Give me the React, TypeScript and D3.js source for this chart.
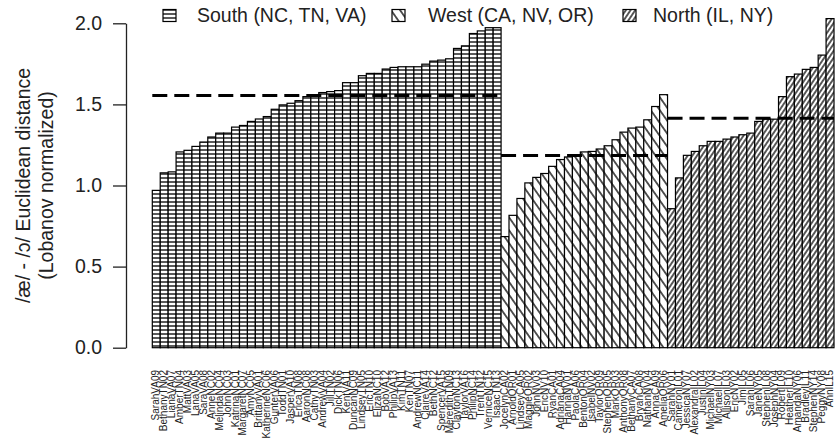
import { useEffect, useRef } from 'react'
import * as d3 from 'd3'

// speakers, sorted within region by distance
const southNames = ['SarahVA09', 'BethanyTN02', 'LianaVA07', 'AmberTN04', 'MattVA03', 'LanaVA05', 'SaraVA08', 'AnneNC02',
  'MelindaNC04', 'JohnNC03', 'KatrinaNC01', 'MargaretNC07', 'AmyNC05', 'BrittanyVA01', 'KatherineNC06', 'GunterVA06',
  'ToddTN01', 'JasperVA10', 'EricaTN08', 'AaronNC08', 'CathyTN03', 'AndrewVA04', 'JillTN02', 'DickTN06', 'KentVA11',
  'DuncanNC09', 'LindseyTN05', 'EricTN10', 'ElizaNC10', 'BobVA12', 'PhilipVA13', 'KimTN11', 'KenTN07', 'AndrewNC11',
  'ClaireVA14', 'BethNC12', 'SpencerVA15', 'MeredithTN09', 'ClaytonNC13', 'TaylorVA16', 'PhilipNC14', 'TrentTN12',
  'VerniceNC15', 'IsaacTN13']
const southValues = [0.97, 1.078, 1.084, 1.207, 1.217, 1.241, 1.268, 1.299, 1.323, 1.323, 1.36, 1.37, 1.395, 1.41,
  1.425, 1.47, 1.497, 1.507, 1.523, 1.548, 1.552, 1.573, 1.579, 1.585, 1.634, 1.634, 1.677, 1.691, 1.691, 1.718,
  1.728, 1.732, 1.732, 1.732, 1.748, 1.767, 1.773, 1.781, 1.845, 1.861, 1.937, 1.953, 1.973, 1.973]

const westNames = ['JocelynCA02', 'ArnoldOR01', 'LindseyCA05', 'MaggieOR02', 'JohnNV03', 'EricNV10', 'RyanCA01',
  'AdrianaCA04', 'HannaNV01', 'PaolaCA06', 'BentonOR04', 'IsabelNV02', 'TaylorOR09', 'StephenOR05', 'MarkOR03',
  'AnthonyOR08', 'BethanyCA07', 'BryanCA08', 'NathanNV04', 'AnnaCA09', 'AmeliaOR06']
const westValues = [0.685, 0.816, 0.92, 1.016, 1.05, 1.074, 1.118, 1.16, 1.176, 1.19, 1.207, 1.21, 1.225, 1.245,
  1.282, 1.329, 1.354, 1.36, 1.405, 1.487, 1.56]

const northNames = ['SarahNY01', 'CameronIL01', 'JessicaNY07', 'AlexandraIL02', 'JustinIL04', 'MichaelNY03',
  'MichaelIL07', 'AllisonIL03', 'EricNY02', 'JimIL05', 'SarahIL06', 'JaneNY05', 'StephenIL08', 'JosephNY04',
  'RobertIL09', 'HeatherIL10', 'AmandaNY06', 'BradleyIL11', 'StephenNY14', 'PeggyNY08', 'AnnIL15']
const northValues = [0.857, 1.047, 1.186, 1.21, 1.245, 1.272, 1.272, 1.286, 1.299, 1.313, 1.323, 1.395, 1.409,
  1.409, 1.548, 1.671, 1.687, 1.716, 1.728, 1.804, 2.029]

const groupIds = ['south', 'west', 'north']
const groupLabels = ['South (NC, TN, VA)', 'West (CA, NV, OR)', 'North (IL, NY)']
const yTicks = [0, 0.5, 1, 1.5, 2]

export default function App() {
  const canvas = useRef<HTMLDivElement>(null)

  useEffect(() => {
    showCanvas()
  }, [])

  const showCanvas = () => {
    const width = 835
    const height = 443
    const margin = { top: 23.3, bottom: 95.3, left: 152.3, right: 1 }
    const font = '"Liberation Sans", Arial, Helvetica, sans-serif'

    d3.select('body').style('margin', 0)
    d3.select(canvas.current).selectAll('*').remove()

    const svg = d3.select(canvas.current)
      .append('svg')
      .attr('width', width)
      .attr('height', height)
      .style('display', 'block')
      .style('background', '#fff')
      .style('font-family', font)

    const groups = [
      { id: 'south', names: southNames, values: southValues },
      { id: 'west', names: westNames, values: westValues },
      { id: 'north', names: northNames, values: northValues }
    ]
    const rows = groups.flatMap(g => g.values.map((v, i) => ({ name: g.names[i], value: v, group: g.id })))

    // hatching, like R's density/angle
    const hatch: Record<string, { angle: number, gap: number }> = {
      south: { angle: 0, gap: 4 },
      west: { angle: 55, gap: 7.4 },
      north: { angle: -56, gap: 3.9 }
    }
    const defs = svg.append('defs')
    groupIds.forEach(id => {
      const h = hatch[id]
      const p = defs.append('pattern')
        .attr('id', `hatch-${id}`)
        .attr('patternUnits', 'userSpaceOnUse')
        .attr('width', 10)
        .attr('height', h.gap)
        .attr('patternTransform', `rotate(${h.angle})`)
      p.append('rect').attr('width', 10).attr('height', h.gap).attr('fill', '#fff')
      p.append('line')
        .attr('x1', 0).attr('x2', 10)
        .attr('y1', h.gap / 2).attr('y2', h.gap / 2)
        .attr('stroke', '#000')
        .attr('stroke-width', 1.3)
    })

    const xScale = d3.scaleBand<number>()
      .domain(d3.range(rows.length))
      .range([margin.left, width - margin.right])
      .padding(0)

    const yScale = d3.scaleLinear()
      .domain([0, 2])
      .range([height - margin.bottom, margin.top])

    // bars
    svg.append('g')
      .selectAll('rect')
      .data(rows)
      .join('rect')
      .attr('x', (d, i) => xScale(i)!)
      .attr('y', d => yScale(d.value))
      .attr('width', xScale.bandwidth())
      .attr('height', d => yScale(0) - yScale(d.value))
      .attr('fill', d => `url(#hatch-${d.group})`)
      .attr('stroke', '#000')
      .attr('stroke-width', 1.2)

    // group means
    let start = 0
    groups.forEach(g => {
      const m = d3.mean(g.values)!
      const x0 = xScale(start)!
      const x1 = xScale(start + g.values.length - 1)! + xScale.bandwidth()
      svg.append('line')
        .attr('x1', x0).attr('x2', x1)
        .attr('y1', yScale(m)).attr('y2', yScale(m))
        .attr('stroke', '#000')
        .attr('stroke-width', 3)
        .attr('stroke-dasharray', '15 7')
      start += g.values.length
    })

    // y axis
    const yAxis = d3.axisLeft(yScale)
      .tickValues(yTicks)
      .tickFormat(d3.format('.1f'))
      .tickSize(13)
      .tickSizeOuter(0)
      .tickPadding(11)

    const gy = svg.append('g')
      .attr('transform', `translate(126, 0)`)
      .call(yAxis)
    gy.select('.domain').attr('stroke', '#222').attr('stroke-width', 1.3)
    gy.selectAll('.tick line').attr('stroke', '#222').attr('stroke-width', 1.3)
    gy.selectAll('.tick text')
      .attr('fill', '#222')
      .style('font-size', '19.5px')
      .style('font-family', font)

    // y title, two lines
    const midY = (yScale(0) + yScale(2)) / 2
    svg.append('text')
      .attr('transform', `translate(30, ${midY}) rotate(-90)`)
      .attr('text-anchor', 'middle')
      .style('font-size', '19.5px')
      .attr('fill', '#222')
      .text('/æ/ - /ɔ/ Euclidean distance')
    svg.append('text')
      .attr('transform', `translate(53, ${midY}) rotate(-90)`)
      .attr('text-anchor', 'middle')
      .style('font-size', '19.5px')
      .attr('fill', '#222')
      .text('(Lobanov normalized)')

    // speaker labels
    svg.append('g')
      .selectAll('text')
      .data(rows)
      .join('text')
      .attr('transform', (d, i) => `translate(${xScale(i)! + xScale.bandwidth() / 2}, 370) rotate(-90)`)
      .attr('dy', '0.3em')
      .attr('text-anchor', 'end')
      .style('font-size', '10px')
      .attr('fill', '#222')
      .text(d => d.name)

    // legend
    const legendX = [163, 392, 623]
    const legendTextX = [197, 428, 653]
    groupIds.forEach((id, i) => {
      svg.append('rect')
        .attr('x', legendX[i])
        .attr('y', 9.5)
        .attr('width', 13)
        .attr('height', 12)
        .attr('fill', `url(#hatch-${id})`)
        .attr('stroke', '#000')
        .attr('stroke-width', 1.2)
      svg.append('text')
        .attr('x', legendTextX[i])
        .attr('y', 21.5)
        .style('font-size', '19.5px')
        .attr('fill', '#222')
        .text(groupLabels[i])
    })
  }

  return (
    <div className='sandbox'>
      <div className='canvas' ref={canvas}></div>
    </div>
  )
}
